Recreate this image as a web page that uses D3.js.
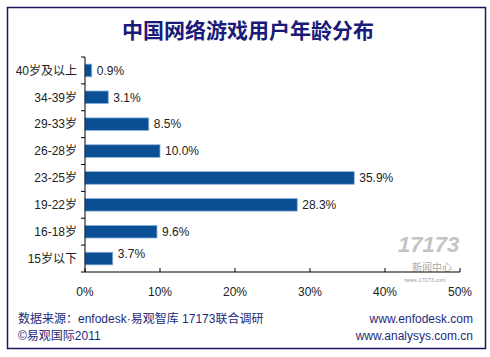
<!DOCTYPE html>
<html><head><meta charset="utf-8">
<script src="https://cdn.jsdelivr.net/npm/d3@7"></script>
<style>body{margin:0;background:#fff}svg{display:block}</style>
</head><body>
<script>
const categories = ["40岁及以上","34-39岁","29-33岁","26-28岁","23-25岁","19-22岁","16-18岁","15岁以下"];
const values = [0.9, 3.1, 8.5, 10.0, 35.9, 28.3, 9.6, 3.7];
const valueLabels = ["0.9%","3.1%","8.5%","10.0%","35.9%","28.3%","9.6%","3.7%"];
const xTicks = [0, 10, 20, 30, 40, 50];
const title = "中国网络游戏用户年龄分布";
const footLeft = ["数据来源：enfodesk·易观智库 17173联合调研", "©易观国际2011"];
const footRight = ["www.enfodesk.com", "www.analysys.com.cn"];

const W = 490, H = 357;
const svg = d3.select("body").append("svg").attr("width", W).attr("height", H);
const font = "'Liberation Sans', Arial, 'Noto Sans CJK SC', sans-serif";
const cjk = "'Noto Sans CJK SC', sans-serif";

svg.append("rect").attr("x", 7.5).attr("y", 7.5).attr("width", 478).attr("height", 341)
  .attr("fill", "#fff").attr("stroke", "#1c1562").attr("stroke-width", 1.5);

svg.append("text").attr("x", 248).attr("y", 38).attr("text-anchor", "middle")
  .attr("font-family", cjk).attr("font-weight", "bold").attr("font-size", 21)
  .attr("fill", "#1a1a78").text(title);

const x = d3.scaleLinear().domain([0, 50]).range([85, 460]);
const y = d3.scaleBand().domain(categories).range([57, 272]).paddingInner(0.53).paddingOuter(0.265);
const yTickScale = d3.scaleBand().domain(categories).range([57, 272]);

// watermark
const wm = svg.append("g");
wm.append("text").attr("x", 398).attr("y", 252).attr("font-family", font).attr("font-weight", "bold")
  .attr("font-style", "italic").attr("font-size", 22).attr("fill", "#c4c4c4").text("17173");
wm.append("text").attr("x", 412).attr("y", 271).attr("font-family", cjk).attr("font-size", 10).attr("fill", "#a8a8a8").text("新闻中心");
wm.append("text").attr("x", 404).attr("y", 282).attr("font-family", font).attr("font-style", "italic").attr("font-size", 5.5).attr("fill", "#9a9a9a").text("news.17173.com");

// bars
svg.append("g").selectAll("rect").data(categories).join("rect")
  .attr("x", x(0)).attr("y", d => y(d))
  .attr("width", (d, i) => x(values[i]) - x(0)).attr("height", y.bandwidth())
  .attr("fill", "#0a4e94").attr("stroke", "#8db3dc").attr("stroke-width", 0.8);

// value labels
svg.append("g").selectAll("text").data(categories).join("text")
  .attr("x", (d, i) => x(values[i]) + 5)
  .attr("y", (d, i) => y(d) + y.bandwidth() / 2 + (i === categories.length - 1 ? -5 : 0))
  .attr("dy", "0.35em").attr("font-family", font).attr("font-size", 12).attr("fill", "#222")
  .text((d, i) => valueLabels[i]);

// y axis
const ya = svg.append("g").attr("transform", "translate(85,0)");
ya.append("line").attr("y1", 57).attr("y2", 272).attr("stroke", "#000");
const bounds = categories.map(c => yTickScale(c)).concat([272]);
ya.selectAll("line.t").data(bounds).join("line").attr("class", "t")
  .attr("x1", -4).attr("x2", 0).attr("y1", d => d).attr("y2", d => d).attr("stroke", "#000");
ya.selectAll("text").data(categories).join("text")
  .attr("x", -8).attr("y", d => y(d) + y.bandwidth() / 2).attr("dy", "0.35em")
  .attr("text-anchor", "end").attr("font-family", font).attr("font-size", 12).attr("fill", "#222")
  .text(d => d);

// x axis
const xa = svg.append("g").attr("transform", "translate(0,272)");
xa.append("line").attr("x1", 85).attr("x2", 460).attr("stroke", "#000");
xa.selectAll("line.t").data(xTicks).join("line").attr("class", "t")
  .attr("x1", d => x(d)).attr("x2", d => x(d)).attr("y1", -4).attr("y2", 0).attr("stroke", "#000");
xa.selectAll("text").data(xTicks).join("text")
  .attr("x", d => x(d)).attr("y", 24).attr("text-anchor", "middle")
  .attr("font-family", font).attr("font-size", 12).attr("fill", "#222").text(d => d + "%");

// footer
svg.append("g").selectAll("text").data(footLeft).join("text")
  .attr("x", 18).attr("y", (d, i) => 323 + i * 17).attr("font-family", font).attr("font-size", 12)
  .attr("fill", "#1e2a7a").text(d => d);
svg.append("g").selectAll("text").data(footRight).join("text")
  .attr("x", 473).attr("y", (d, i) => 323 + i * 17).attr("text-anchor", "end").attr("font-family", font).attr("font-size", 12)
  .attr("fill", "#1e2a7a").text(d => d);
</script>
</body></html>
